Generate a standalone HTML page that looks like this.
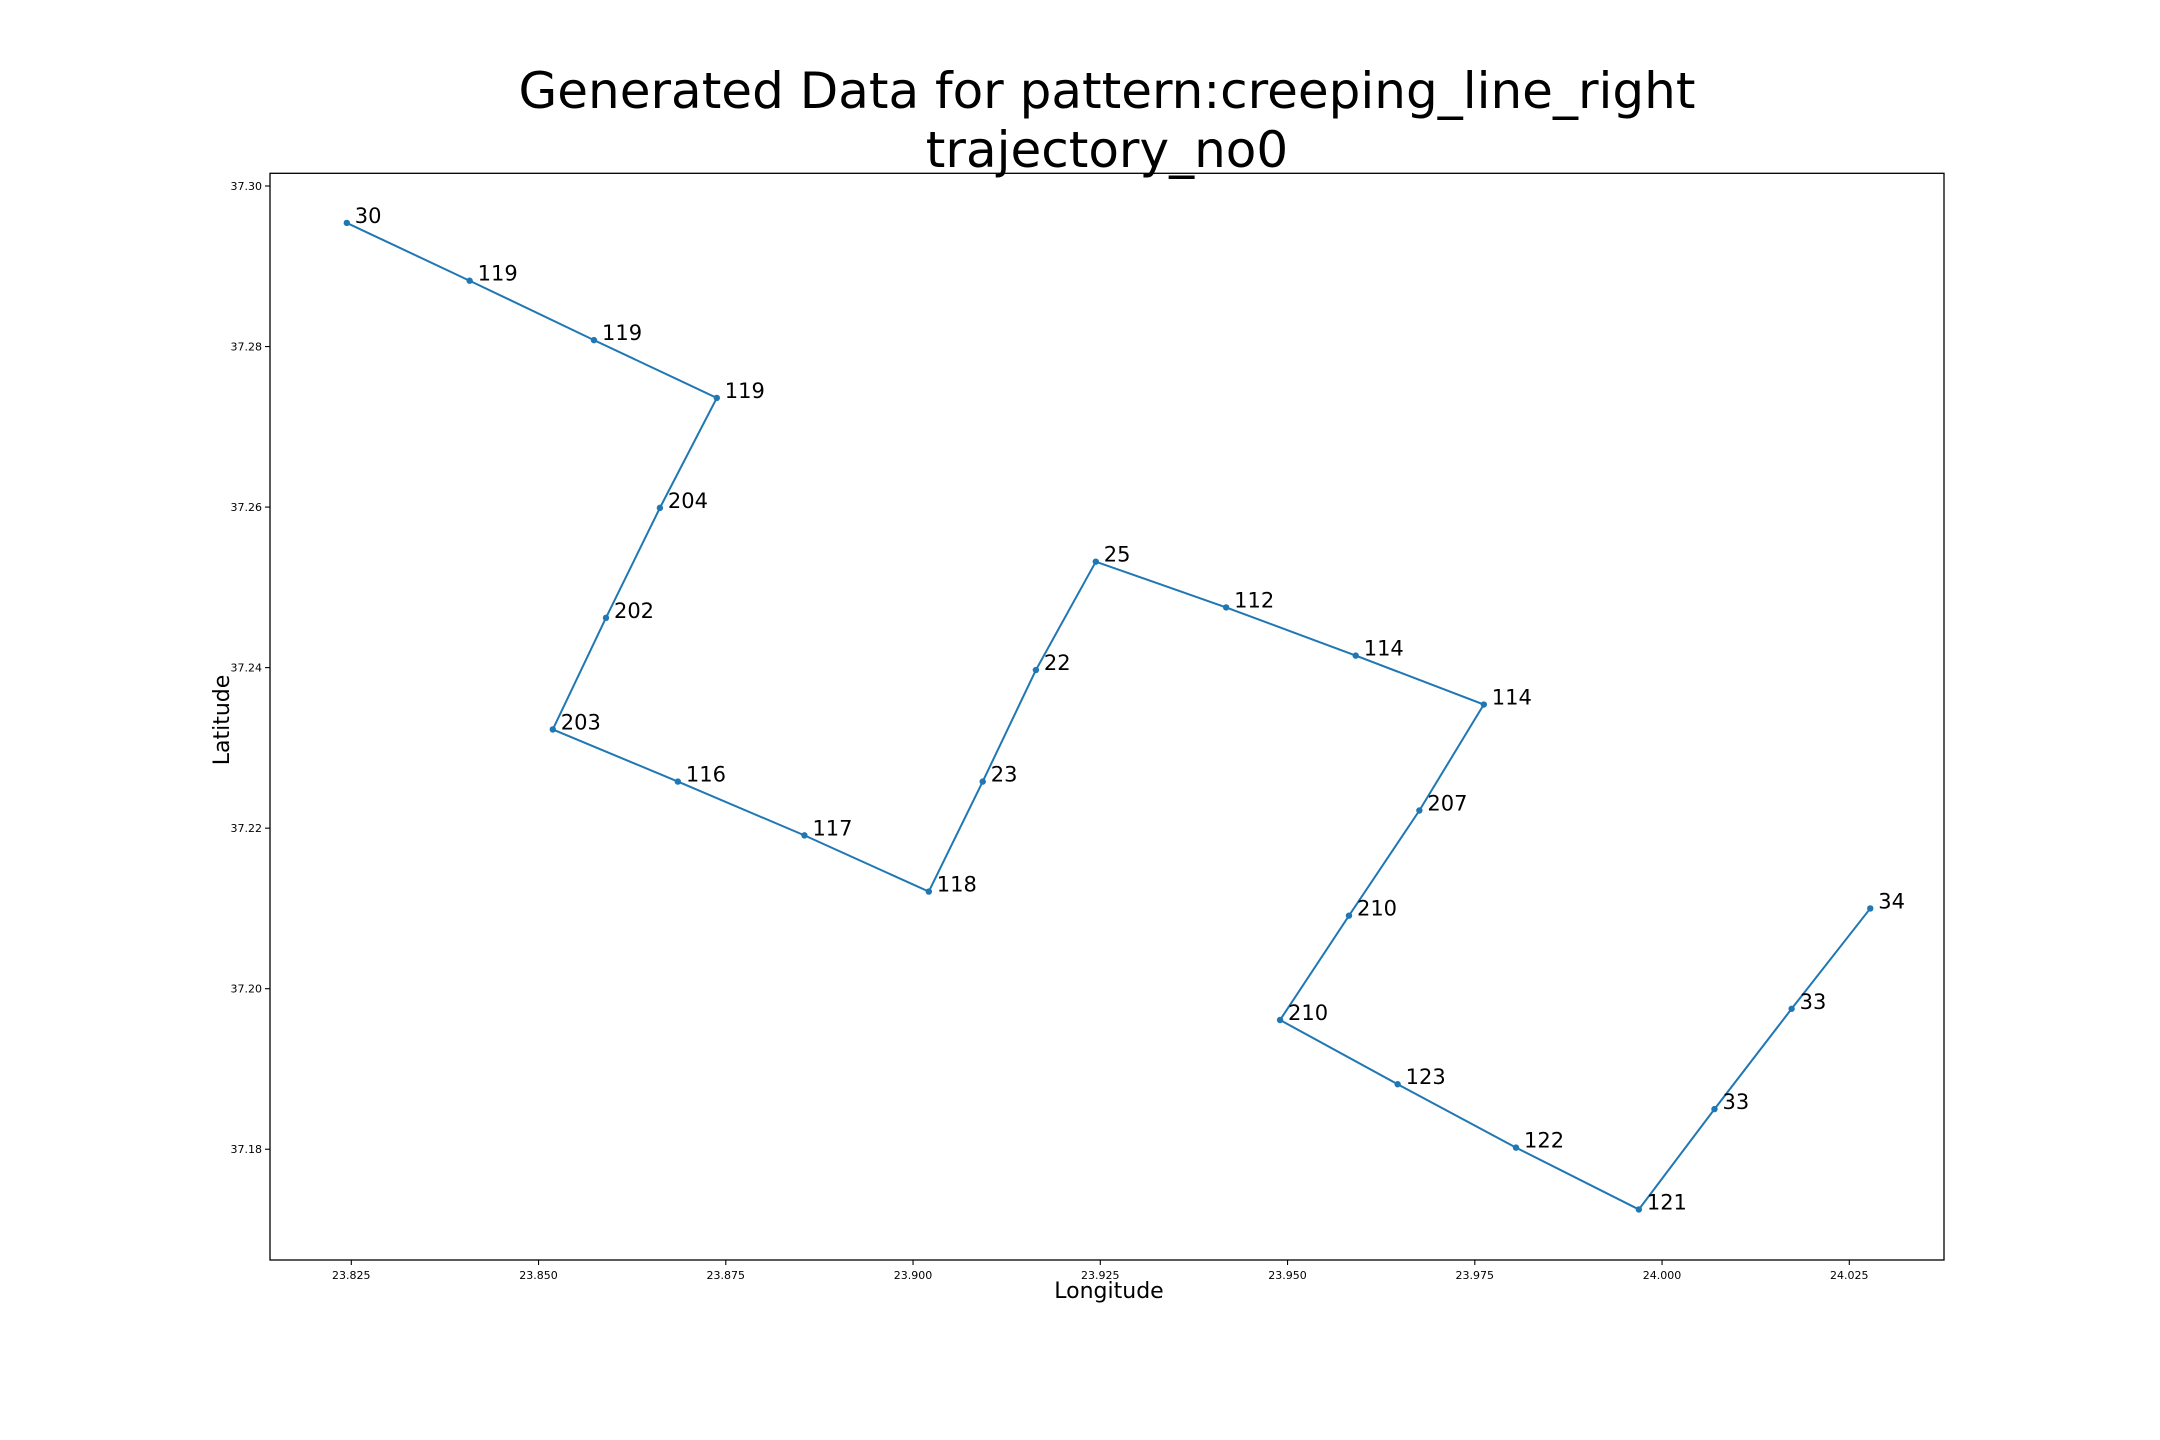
<!DOCTYPE html>
<html><head><meta charset="utf-8"><style>
html,body{margin:0;padding:0;background:#fff;}
svg{display:block;font-family:"DejaVu Sans","Liberation Sans",sans-serif;}
</style></head><body>
<svg id="chart" width="2160" height="1440" viewBox="0 0 2160 1440">
<rect width="2160" height="1440" fill="#fff"/>
<text x="1107" y="108" font-size="50" text-anchor="middle">Generated Data for pattern:creeping_line_right</text>
<text x="1107" y="167" font-size="50" text-anchor="middle">trajectory_no0</text>
<g id="ticks"></g>
<g id="plot"></g>
<rect x="270" y="173.3" width="1674" height="1086.7" fill="none" stroke="#000" stroke-width="1.3"/>
<text x="1109" y="1298" font-size="22" text-anchor="middle">Longitude</text>
<text x="0" y="0" font-size="22" text-anchor="middle" transform="translate(229,720) rotate(-90)">Latitude</text>
</svg>
<script>
const lons=[23.8244,23.8408,23.8574,23.8738,23.8662,23.8590,23.8519,23.8686,23.8855,23.9021,23.9093,23.9164,23.9244,23.9418,23.9591,23.9762,23.9676,23.9582,23.9490,23.9647,23.9805,23.9969,24.0070,24.0173,24.0278];
const lats=[37.2954,37.2882,37.2808,37.2736,37.2599,37.2462,37.2323,37.2258,37.2191,37.2121,37.2258,37.2397,37.2532,37.2475,37.2415,37.2354,37.2222,37.2091,37.1961,37.1881,37.1802,37.1725,37.1850,37.1975,37.2100];
const pointLabels=["30","119","119","119","204","202","203","116","117","118","23","22","25","112","114","114","207","210","210","123","122","121","33","33","34"];
const xTicks=[23.825,23.850,23.875,23.900,23.925,23.950,23.975,24.000,24.025];
const yTicks=[37.18,37.20,37.22,37.24,37.26,37.28,37.30];
const NS="http://www.w3.org/2000/svg";
function xs(v){return 351.3+(v-23.825)*7490;}
function ys(v){return 186+(37.30-v)*8027;}
const tg=document.getElementById('ticks'),pg=document.getElementById('plot');
function mk(tag,attrs,parent){const e=document.createElementNS(NS,tag);for(const k in attrs)e.setAttribute(k,attrs[k]);parent.appendChild(e);return e;}
xTicks.forEach(t=>{
  const x=xs(t);
  const l=mk('line',{x1:x,x2:x,y1:1260,y2:1265,stroke:'#000','stroke-width':1.1},tg);
  
  
  const tx=mk('text',{x:x,y:1279,'font-size':11,'text-anchor':'middle'},tg);
  tx.textContent=t.toFixed(3);
  
  
});
yTicks.forEach(t=>{
  const y=ys(t);
  const l=mk('line',{x1:265,x2:270,y1:y,y2:y,stroke:'#000','stroke-width':1.1},tg);
  
  
  const tx=mk('text',{x:262,y:y+4,'font-size':11,'text-anchor':'end'},tg);
  tx.textContent=t.toFixed(2);
  
  
});
const pts=lons.map((v,i)=>xs(v)+','+ys(lats[i])).join(' ');
const pl=mk('polyline',{points:pts,fill:'none',stroke:'#1f77b4','stroke-width':2},pg);


lons.forEach((v,i)=>{
  const c=mk('circle',{cx:xs(v),cy:ys(lats[i]),r:3.2,fill:'#1f77b4'},pg);
  
  
  const t=mk('text',{x:xs(v)+8,y:ys(lats[i]),'font-size':21},pg);
  t.textContent=pointLabels[i];
  
  
});
</script>
</body></html>
